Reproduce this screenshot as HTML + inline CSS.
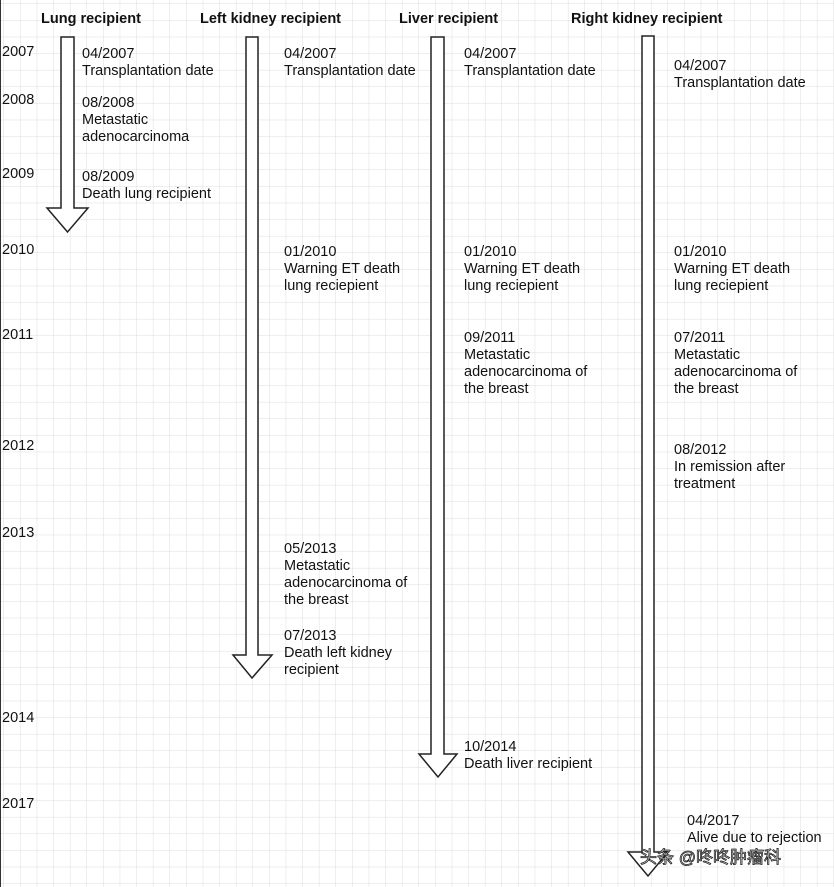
<!DOCTYPE html>
<html><head><meta charset="utf-8"><style>
html,body{margin:0;padding:0;background:#fff}
svg{display:block}
text{font-family:"Liberation Sans",sans-serif;font-size:14.5px;fill:#111}
.h{font-weight:bold}
</style></head><body>
<svg width="834" height="887" viewBox="0 0 834 887">
<defs><pattern id="g" width="16.6" height="16.6" patternUnits="userSpaceOnUse" x="4" y="4"><path d="M16.6 0V16.6M0 16.6H16.6" stroke="#dcdcdc" stroke-width="1" fill="none"/></pattern></defs>
<rect width="834" height="887" fill="url(#g)"/>
<line x1="0.5" y1="0" x2="0.5" y2="887" stroke="#333" stroke-width="1"/>
<g fill="#fff" stroke="#222" stroke-width="1.5">
<path d="M61 37H74V208H88L67.5 232L47 208H61Z"/>
<path d="M246 37H258V655H272L252 678L233 655H246Z"/>
<path d="M431 37H444V754H457L438 777L419 754H431Z"/>
<path d="M642 36H654V852H668L648 876L628 852H642Z"/>
</g>
<text class="h" x="41" y="23">Lung recipient</text>
<text class="h" x="200" y="23">Left kidney recipient</text>
<text class="h" x="399" y="23">Liver recipient</text>
<text class="h" x="571" y="23">Right kidney recipient</text>
<text x="2" y="56">2007</text><text x="2" y="104">2008</text><text x="2" y="178">2009</text>
<text x="2" y="254">2010</text><text x="2" y="339">2011</text><text x="2" y="450">2012</text>
<text x="2" y="537">2013</text><text x="2" y="722">2014</text><text x="2" y="808">2017</text>
<g>
<text x="82" y="58">04/2007</text><text x="82" y="75">Transplantation date</text>
<text x="82" y="107">08/2008</text><text x="82" y="124">Metastatic</text><text x="82" y="141">adenocarcinoma</text>
<text x="82" y="181">08/2009</text><text x="82" y="198">Death lung recipient</text>

<text x="284" y="58">04/2007</text><text x="284" y="75">Transplantation date</text>
<text x="284" y="256">01/2010</text><text x="284" y="273">Warning ET death</text><text x="284" y="290">lung reciepient</text>
<text x="284" y="553">05/2013</text><text x="284" y="570">Metastatic</text><text x="284" y="587">adenocarcinoma of</text><text x="284" y="604">the breast</text>
<text x="284" y="640">07/2013</text><text x="284" y="657">Death left kidney</text><text x="284" y="674">recipient</text>

<text x="464" y="58">04/2007</text><text x="464" y="75">Transplantation date</text>
<text x="464" y="256">01/2010</text><text x="464" y="273">Warning ET death</text><text x="464" y="290">lung reciepient</text>
<text x="464" y="342">09/2011</text><text x="464" y="359">Metastatic</text><text x="464" y="376">adenocarcinoma of</text><text x="464" y="393">the breast</text>
<text x="464" y="751">10/2014</text><text x="464" y="768">Death liver recipient</text>

<text x="674" y="70">04/2007</text><text x="674" y="87">Transplantation date</text>
<text x="674" y="256">01/2010</text><text x="674" y="273">Warning ET death</text><text x="674" y="290">lung reciepient</text>
<text x="674" y="342">07/2011</text><text x="674" y="359">Metastatic</text><text x="674" y="376">adenocarcinoma of</text><text x="674" y="393">the breast</text>
<text x="674" y="454">08/2012</text><text x="674" y="471">In remission after</text><text x="674" y="488">treatment</text>
<text x="687" y="825">04/2017</text><text x="687" y="842">Alive due to rejection</text>
</g>
<text x="640" y="863" style="font-family:'Liberation Sans','Noto Sans CJK SC',sans-serif;font-size:17px;fill:#fff;stroke:#222;stroke-width:0.8">头条 @咚咚肿瘤科</text>
</svg>
</body></html>
